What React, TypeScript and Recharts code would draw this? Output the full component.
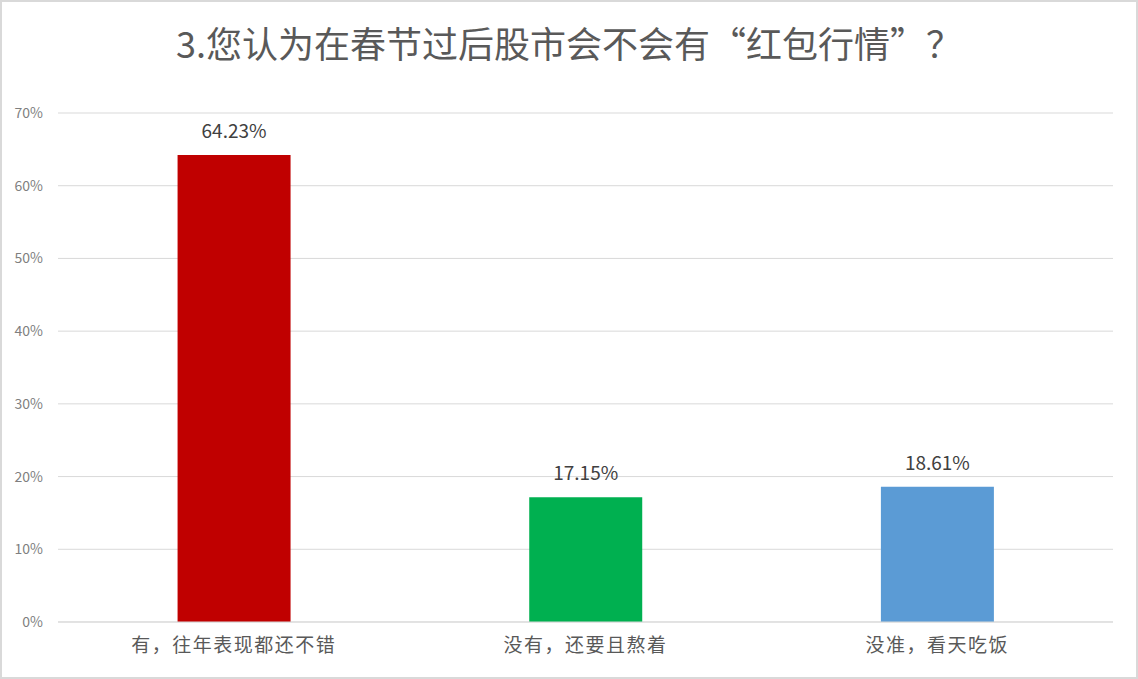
import { Bar, BarChart, CartesianGrid, Cell, LabelList, XAxis, YAxis } from "recharts";

const categories = ["有，往年表现都还不错", "没有，还要且熬着", "没准，看天吃饭"];
const shares = [0.6423, 0.1715, 0.1861];
const barColors = ["#c00000", "#00b050", "#5b9bd5"];
const yTicks = [0, 0.1, 0.2, 0.3, 0.4, 0.5, 0.6, 0.7];

const chartData = categories.map((name, i) => ({ name, value: shares[i] }));

const font = '"Noto Sans CJK SC", "Noto Sans", sans-serif';

export default function App() {
	return (
		<div
			style={{
				position: "relative",
				width: 1138,
				height: 679,
				boxSizing: "border-box",
				border: "2px solid #d9d9d9",
				background: "#fff",
				fontFamily: font,
			}}
		>
			<style>{"body{margin:0}"}</style>
			<div
				style={{
					position: "absolute",
					top: 16,
					left: 0,
					width: "100%",
					textAlign: "center",
					fontSize: 36,
					color: "#595959",
					lineHeight: "48px",
				}}
			>
				3.您认为在春节过后股市会不会有“红包行情”？
			</div>
			<div style={{ position: "absolute", left: -2, top: -2 }}>
				<BarChart
					width={1138}
					height={679}
					data={chartData}
					margin={{ top: 113, right: 25, bottom: 0, left: 0 }}
					barCategoryGap="34%"
				>
					<CartesianGrid stroke="#d9d9d9" vertical={false} />
					<XAxis
						dataKey="name"
						height={57}
						stroke="#d9d9d9"
						tickLine={false}
						tickMargin={11}
						tick={{
							fill: "#595959",
							fontSize: 19,
							fontFamily: font,
							letterSpacing: 1.5,
						}}
					/>
					<YAxis
						width={58}
						domain={[0, 0.7]}
						ticks={yTicks}
						axisLine={false}
						tickLine={false}
						tickMargin={9}
						tickFormatter={(v: number) => `${Math.round(v * 100)}%`}
						tick={{ fill: "#7f7f7f", fontSize: 14, fontFamily: font }}
					/>
					<Bar dataKey="value" isAnimationActive={false}>
						{chartData.map((d, i) => (
							<Cell key={d.name} fill={barColors[i]} />
						))}
						<LabelList
							dataKey="value"
							position="top"
							offset={17}
							formatter={(v: number) => `${(v * 100).toFixed(2)}%`}
							style={{ fill: "#404040", fontSize: 19, fontFamily: font }}
						/>
					</Bar>
				</BarChart>
			</div>
		</div>
	);
}
